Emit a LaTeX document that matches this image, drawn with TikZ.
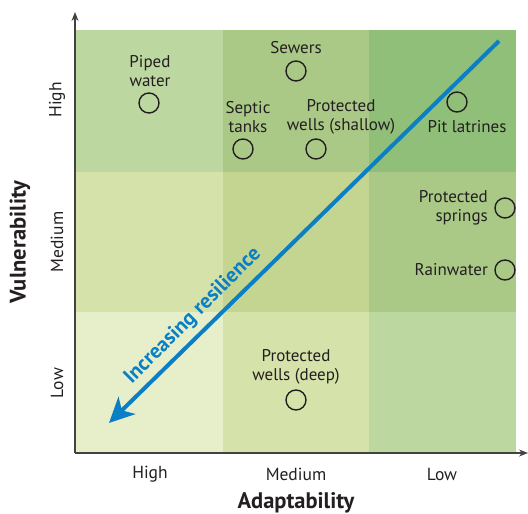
\documentclass[tikz,border=0pt]{standalone}
\usepackage{fontspec}
\setmainfont{PT Sans}
\usetikzlibrary{arrows.meta}
\definecolor{ca}{HTML}{BDD7A1}
\definecolor{cb}{HTML}{AAC987}
\definecolor{cc}{HTML}{8FBF79}
\definecolor{cd}{HTML}{D5E2AA}
\definecolor{ce}{HTML}{C4D592}
\definecolor{cf}{HTML}{E6EFCA}
\definecolor{blu}{HTML}{0A7FC6}
\definecolor{ink}{HTML}{231F20}
\begin{document}
\begin{tikzpicture}[x=1pt,y=-1pt,
  lbl/.style={font=\fontsize{17}{19}\selectfont, text=ink, align=center, inner sep=0pt},
  ax/.style={font=\fontsize{17.5}{19}\selectfont, text=ink, inner sep=0pt},
  ttl/.style={font=\bfseries\fontsize{22.5}{24}\selectfont, text=ink, inner sep=0pt},
  site/.style={circle, draw=ink, line width=1.4pt, minimum size=20pt, inner sep=0pt},
  axis/.style={draw=ink!85, line width=1.3pt, -{Stealth[length=9pt,width=7pt]}}]
\useasboundingbox (0,0) rectangle (528,514);
% cells
\fill[ca] (75,30) rectangle (223,172);
\fill[cb] (223,30) rectangle (369,172);
\fill[cc] (369,30) rectangle (516,172);
\fill[cd] (75,172) rectangle (223,312);
\fill[ce] (223,172) rectangle (369,312);
\fill[cb] (369,172) rectangle (516,312);
\fill[cf] (75,312) rectangle (223,453);
\fill[cd] (223,312) rectangle (369,453);
\fill[ca] (369,312) rectangle (516,453);
% axes
\coordinate (o) at (75,453);
\coordinate (ytop) at (75,12);
\coordinate (xend) at (528,453);
\draw[axis] (o) -- (ytop);
\draw[axis] (o) -- (xend);
% sites
\node[site] (piped) at (149,103) {};
\node[lbl] (pipedt) at (150,71) {Piped\\water};
\node[site] (sewers) at (296,71) {};
\node[lbl] (sewerst) at (296,48) {Sewers};
\node[site] (septic) at (243,149) {};
\node[lbl] (septict) at (248,117) {Septic\\tanks};
\node[site] (pwsh) at (316,149) {};
\node[lbl] (pwsht) at (341,117) {Protected\\wells (shallow)};
\node[site] (pit) at (457,102) {};
\node[lbl] (pitt) at (467,127) {Pit latrines};
\node[site] (springs) at (505,208) {};
\node[lbl, align=right, anchor=east] (springst) at (488,208) {Protected\\springs};
\node[site] (rain) at (505,270) {};
\node[lbl, anchor=east] (raint) at (488,270) {Rainwater};
\node[site] (deep) at (296,400) {};
\node[lbl] (deept) at (296,367) {Protected\\wells (deep)};
% resilience arrow
\coordinate (rtop) at (499,41);
\coordinate (rtip) at (109,423);
\draw[blu, line width=4pt, -{Stealth[length=25pt,width=24pt,inset=7pt]}] (rtop) -- (rtip);
\node[font=\bfseries\fontsize{21}{23}\selectfont, text=blu, rotate=45, inner sep=0pt] (res) at (193,316) {Increasing resilience};
% axis labels
\node[ax, rotate=90] (yh) at (57,100) {High};
\node[ax, rotate=90] (ym) at (57,242) {Medium};
\node[ax, rotate=90] (yl) at (57,383) {Low};
\node[ttl, rotate=90] (yt) at (20,242) {Vulnerability};
\node[ax] (xh) at (150,474) {High};
\node[ax] (xm) at (296,474) {Medium};
\node[ax] (xl) at (442,474) {Low};
\node[ttl] (xt) at (296,503) {Adaptability};
\end{tikzpicture}
\end{document}
